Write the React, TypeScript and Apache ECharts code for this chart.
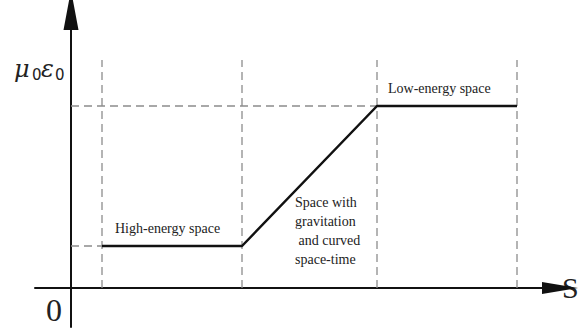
import React, { useEffect, useRef } from "react";
import * as echarts from "echarts";

// x positions of the regime boundaries (arbitrary S units)
const xBreaks = [3.1, 17.1, 30.6, 44.6];
// mu0*eps0 levels: high-energy plateau, low-energy plateau
const levels = [4.2, 18.2];
const curveX = [3.1, 17.1, 30.6, 44.6];
const curveY = [4.2, 4.2, 18.2, 18.2];
const guideTop = 22.8;
const regionLabels = ["High-energy space", "Space with\ngravitation\n and curved\nspace-time", "Low-energy space"];

export default function App() {
  const ref = useRef<HTMLDivElement>(null);
  useEffect(() => {
    const chart = echarts.init(ref.current!, undefined, { renderer: "svg" });
    const dashStyle = { color: "#8c8c8c", width: 1.3, type: [8, 5] as any };
    const series: any[] = [];
    xBreaks.forEach((x) => {
      series.push({
        type: "line",
        data: [[x, 0], [x, guideTop]],
        symbol: "none",
        lineStyle: dashStyle,
        silent: true,
      });
    });
    series.push({
      type: "line",
      data: [[0, levels[0]], [xBreaks[0], levels[0]]],
      symbol: "none",
      lineStyle: dashStyle,
    });
    series.push({
      type: "line",
      data: [[0, levels[1]], [xBreaks[2], levels[1]]],
      symbol: "none",
      lineStyle: dashStyle,
    });
    series.push({
      type: "line",
      data: curveX.map((x, i) => [x, curveY[i]]),
      symbol: "none",
      lineStyle: { color: "#111", width: 2.5 },
      z: 5,
    });
    const serif = "Liberation Serif";
    const txt = (left: number, top: number, text: string, size: number, extra: any = {}) => ({
      type: "text",
      left,
      top,
      style: { text, fontSize: size, fontFamily: serif, fill: "#222", ...extra },
    });
    chart.setOption({
      animation: false,
      backgroundColor: "#fff",
      grid: { left: 35, right: 19, top: 10, bottom: 2 },
      xAxis: {
        type: "value",
        min: -3.6,
        max: 48.9,
        axisLine: {
          onZero: true,
          lineStyle: { color: "#111", width: 2 },
          symbol: ["none", "triangle"],
          symbolSize: [12, 36],
        },
        axisTick: { show: false },
        axisLabel: { show: false },
        splitLine: { show: false },
      },
      yAxis: {
        type: "value",
        min: -3.9,
        max: 27.8,
        axisLine: {
          onZero: true,
          lineStyle: { color: "#111", width: 2 },
          symbol: ["none", "triangle"],
          symbolSize: [15, 40],
        },
        axisTick: { show: false },
        axisLabel: { show: false },
        splitLine: { show: false },
      },
      series,
      graphic: [
        txt(14, 57, "μ", 24, { fontFamily: "DejaVu Serif", fontStyle: "italic" }),
        txt(32, 67, "0", 15, { fontFamily: "DejaVu Sans" }),
        txt(41, 57, "ε", 24, { fontFamily: "DejaVu Serif", fontStyle: "italic" }),
        txt(55, 67, "0", 15, { fontFamily: "DejaVu Sans" }),
        txt(46, 294, "0", 32),
        txt(562, 272, "S", 30),
        txt(115, 221, regionLabels[0], 14),
        txt(295, 193, regionLabels[1], 14, { lineHeight: 19 }),
        txt(388, 81, regionLabels[2], 14),
      ],
    });
    return () => chart.dispose();
  }, []);
  return <div ref={ref} style={{ width: 579, height: 329, position: "absolute", left: 0, top: 0 }} />;
}
